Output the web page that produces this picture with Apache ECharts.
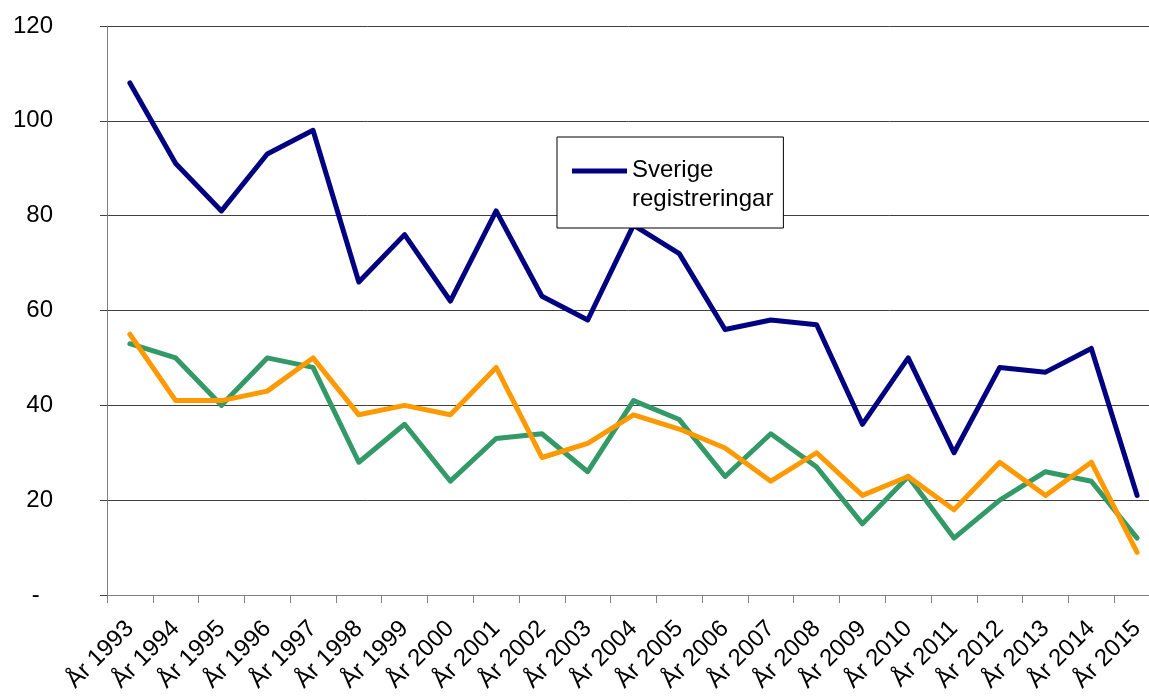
<!DOCTYPE html>
<html>
<head>
<meta charset="utf-8">
<script src="https://cdn.jsdelivr.net/npm/echarts@6/dist/echarts.min.js"></script>
<style>
html,body{margin:0;padding:0;background:#fff;}
#chart{width:1149px;height:697px;}
</style>
</head>
<body>
<div id="chart"></div>
<script>
var categories = ['År 1993','År 1994','År 1995','År 1996','År 1997','År 1998','År 1999','År 2000','År 2001','År 2002','År 2003','År 2004','År 2005','År 2006','År 2007','År 2008','År 2009','År 2010','År 2011','År 2012','År 2013','År 2014','År 2015'];
var sverige = [108,91,81,93,98,66,76,62,81,63,58,78,72,56,58,57,36,50,30,48,47,52,21];
var serie2 = [53,50,40,50,48,28,36,24,33,34,26,41,37,25,34,27,15,25,12,20,26,24,12];
var serie3 = [55,41,41,43,50,38,40,38,48,29,32,38,35,31,24,30,21,25,18,28,21,28,9];
var yTicks = {min:0, max:120, interval:20};

var FONT = '"Liberation Sans", Arial, sans-serif';
var chart = echarts.init(document.getElementById('chart'), null, {renderer:'canvas'});
var lineCommon = {type:'line', showSymbol:false, symbol:'none', smooth:false, animation:false};
chart.setOption({
  backgroundColor:'#ffffff',
  animation:false,
  grid:{left:107, top:26, width:1053, bottom:102, outerBoundsMode:'none', containLabel:false},
  legend:{
    data:['Sverige registreringar'],
    formatter:function(){return 'Sverige\nregistreringar';},
    left:557, top:137, z:20, zlevel:0,
    orient:'vertical',
    backgroundColor:'#ffffff', borderColor:'#000000', borderWidth:1,
    padding:[19,10,14,15],
    itemWidth:55, itemHeight:58,
    icon:'path://M0,0L0.01,0M0,12.5H55V17.5H0ZM55,58L54.99,58',
    selectedMode:false,
    textStyle:{fontFamily:FONT, fontSize:24, lineHeight:29, color:'#000'}
  },
  xAxis:{
    type:'category', data:categories, boundaryGap:true,
    axisLine:{show:true, lineStyle:{color:'#808080', width:1}},
    axisTick:{show:true, length:8, lineStyle:{color:'#808080'}},
    axisLabel:{interval:0, rotate:45, fontFamily:FONT, fontSize:24, color:'#000', margin:30},
    splitLine:{show:false}
  },
  yAxis:{
    type:'value', min:yTicks.min, max:yTicks.max, interval:yTicks.interval,
    axisLine:{show:true, lineStyle:{color:'#808080', width:1}},
    axisTick:{show:true, length:7, lineStyle:{color:'#404040'}},
    axisLabel:{fontFamily:FONT, fontSize:24, color:'#000', margin:54,
      formatter:function(v){return v===0 ? '-  ' : String(v);}},
    splitLine:{show:true, lineStyle:{color:'#404040', width:1}}
  },
  series:[
    Object.assign({}, lineCommon, {name:'Serie 2', data:serie2, lineStyle:{color:'#339966', width:5, cap:'round', join:'round'}, itemStyle:{color:'#339966'}, z:2}),
    Object.assign({}, lineCommon, {name:'Serie 3', data:serie3, lineStyle:{color:'#FF9900', width:5, cap:'round', join:'round'}, itemStyle:{color:'#FF9900'}, z:3}),
    Object.assign({}, lineCommon, {name:'Sverige registreringar', data:sverige, lineStyle:{color:'#000080', width:5, cap:'round', join:'round'}, itemStyle:{color:'#000080'}, z:4})
  ]
});
</script>
</body>
</html>
